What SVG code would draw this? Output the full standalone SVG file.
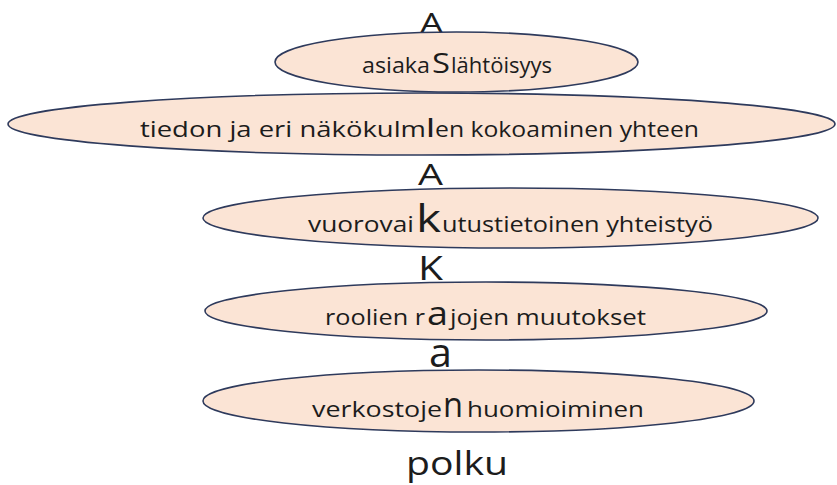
<svg xmlns="http://www.w3.org/2000/svg" width="837" height="485" viewBox="0 0 837 485">
<style>
.bg{fill:#ffffff}
.el{fill:#FBE4D5;stroke:#2E3A5C;stroke-width:1.6}
.t{font-family:"Open Sans","Liberation Sans",sans-serif;fill:#1c1c1c}
.s{font-size:21px}
</style>
<rect class="bg" x="0" y="0" width="837" height="485"/>
<g id="sep-A1"><text class="t" x="420" y="33" font-size="28" textLength="23" lengthAdjust="spacingAndGlyphs">A</text></g>
<g id="node-asiakaslahtoisyys">
<ellipse class="el" cx="456.5" cy="62" rx="181.5" ry="30"/>
<text class="t s" x="362" y="73" textLength="68" lengthAdjust="spacingAndGlyphs">asiaka</text>
<text class="t" x="432" y="73" font-size="28" textLength="18" lengthAdjust="spacingAndGlyphs">S</text>
<text class="t s" x="451" y="73" textLength="101" lengthAdjust="spacingAndGlyphs">lähtöisyys</text>
</g>
<g id="node-tiedon">
<ellipse class="el" cx="421.5" cy="124" rx="413.5" ry="31"/>
<text class="t s" x="140" y="137" textLength="286" lengthAdjust="spacingAndGlyphs">tiedon ja eri näkökulm</text>
<text class="t" x="427" y="137" font-size="26" font-weight="bold" textLength="7" lengthAdjust="spacingAndGlyphs">I</text>
<text class="t s" x="435" y="137" textLength="264" lengthAdjust="spacingAndGlyphs">en kokoaminen yhteen</text>
</g>
<g id="sep-A2"><text class="t" x="418" y="185" font-size="30" textLength="25" lengthAdjust="spacingAndGlyphs">A</text></g>
<g id="node-vuorovaikutus">
<ellipse class="el" cx="510.5" cy="218" rx="307.5" ry="30"/>
<text class="t" x="308" y="232" font-size="22" textLength="106" lengthAdjust="spacingAndGlyphs">vuorovai</text>
<text class="t" x="416" y="232" font-size="38" textLength="25" lengthAdjust="spacingAndGlyphs">k</text>
<text class="t" x="442" y="232" font-size="22" textLength="271" lengthAdjust="spacingAndGlyphs">utustietoinen yhteistyö</text>
</g>
<g id="sep-K"><text class="t" x="418" y="280" font-size="32" textLength="25" lengthAdjust="spacingAndGlyphs">K</text></g>
<g id="node-roolien">
<ellipse class="el" cx="486" cy="311" rx="281" ry="29"/>
<text class="t" x="325" y="325" font-size="22" textLength="100" lengthAdjust="spacingAndGlyphs">roolien r</text>
<text class="t" x="427" y="325" font-size="32" textLength="21" lengthAdjust="spacingAndGlyphs">a</text>
<text class="t" x="450" y="325" font-size="22" textLength="196" lengthAdjust="spacingAndGlyphs">jojen muutokset</text>
</g>
<g id="sep-a"><text class="t" x="429" y="367" font-size="40" textLength="23" lengthAdjust="spacingAndGlyphs">a</text></g>
<g id="node-verkostojen">
<ellipse class="el" cx="478.5" cy="401" rx="275.5" ry="31"/>
<text class="t" x="312" y="417" font-size="22" textLength="130" lengthAdjust="spacingAndGlyphs">verkostoje</text>
<text class="t" x="443" y="417" font-size="34" textLength="20" lengthAdjust="spacingAndGlyphs">n</text>
<text class="t" x="467" y="417" font-size="22" textLength="177" lengthAdjust="spacingAndGlyphs">huomioiminen</text>
</g>
<g id="label-polku"><text class="t" x="406" y="475" font-size="32" textLength="102" lengthAdjust="spacingAndGlyphs">polku</text></g>
</svg>
